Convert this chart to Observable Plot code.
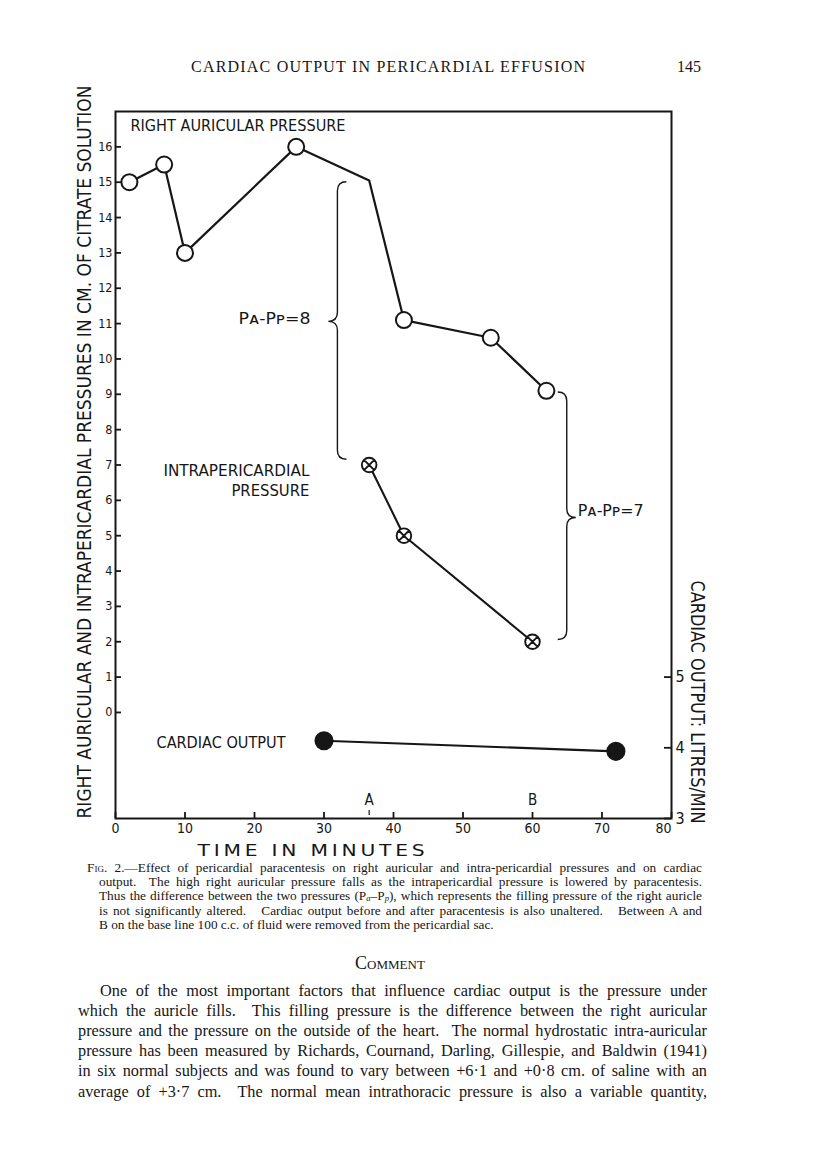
<!DOCTYPE html>
<html>
<head>
<meta charset="utf-8">
<script src="https://cdn.jsdelivr.net/npm/d3@7"></script>
<script src="https://cdn.jsdelivr.net/npm/@observablehq/plot@0.6"></script>
<style>
  html, body { margin: 0; padding: 0; background: #fff; }
  #page { position: relative; width: 816px; height: 1159px; overflow: hidden; color: #161616;
          font-family: "Liberation Serif", "DejaVu Serif", serif; }
  #chart { position: absolute; left: 0; top: 0; }
  .abs { position: absolute; white-space: pre; }
  .hdr { font-size: 16px; line-height: 16px; }
  .cap { font-size: 13.3px; line-height: 14px; }
  .txt { font-size: 16.3px; line-height: 20px; }
  .cmt { font-size: 18px; line-height: 20px; }
  .sc { font-variant: small-caps; }
  .sub { font-style: italic; font-size: 0.65em; vertical-align: -0.15em; line-height: 0; }
</style>
</head>
<body>
<div id="page">
  <div id="chart"></div>
  <div id="textLayer"></div>
</div>
<script>
// ---------------- data ----------------
const raTime     = [2, 7, 10, 26, 36.5, 41.5, 54, 62];
const raPressure = [15, 15.5, 13, 16, 15.05, 11.1, 10.6, 9.1];
const raMarked   = [true, true, true, true, false, true, true, true];

const ipTime     = [36.5, 41.5, 60];
const ipPressure = [7, 5, 2];

const coTime     = [30, 72];
const coOutput   = [4.1, 3.95];

const xTicks  = [0, 10, 20, 30, 40, 50, 60, 70, 80];
const yTicks  = [0, 1, 2, 3, 4, 5, 6, 7, 8, 9, 10, 11, 12, 13, 14, 15, 16];
const coTicks = [3, 4, 5];

const markerTimes  = [36.5, 60];
const markerLabels = ["A", "B"];

const braceX      = [32, 65];
const braceTop    = [15.0, 9.05];
const braceBottom = [7.15, 2.05];
const braceTip    = [11.05, 5.5];
const braceDir    = [-1, 1];
const braceLabels = ["P\u1D00-P\u1D18=8", "P\u1D00-P\u1D18=7"];

const leftTitle  = "RIGHT AURICULAR AND INTRAPERICARDIAL PRESSURES IN CM. OF CITRATE SOLUTION";
const rightTitle = "CARDIAC OUTPUT: LITRES/MIN";
const xTitle     = "TIME IN MINUTES";
const raLabel    = "RIGHT AURICULAR PRESSURE";
const ipLabel    = ["INTRAPERICARDIAL", "PRESSURE"];
const coLabel    = "CARDIAC OUTPUT";

// cardiac output (3..13 L/min) shares the frame with pressure (-3..17 cm)
const coToY = c => 2 * c - 9;
const yToCo = v => (v + 9) / 2;

// ---------------- tables ----------------
const raData = raTime.map((t, i) => ({t, p: raPressure[i], m: raMarked[i]}));
const ipData = ipTime.map((t, i) => ({t, p: ipPressure[i]}));
const coData = coTime.map((t, i) => ({t, c: coOutput[i]}));

// ---------------- layout ----------------
const ink = "#161616";
const W = 816, H = 870, mL = 115, mR = 145, mT = 111, mB = 52;
const frameW = W - mL - mR, frameH = H - mT - mB;
const sans = "'DejaVu Sans Condensed', 'Liberation Sans Narrow', 'DejaVu Sans', sans-serif";

const crossCircle = {
  draw(ctx, size) {
    const r = Math.sqrt(size / Math.PI), k = r / Math.SQRT2;
    ctx.moveTo(r, 0); ctx.arc(0, 0, r, 0, 2 * Math.PI);
    ctx.moveTo(-k, -k); ctx.lineTo(k, k);
    ctx.moveTo(-k, k); ctx.lineTo(k, -k);
  }
};

function braces(index, scales) {
  const g = d3.create("svg:g").attr("fill", "none").attr("stroke", ink).attr("stroke-width", 1.4);
  const c = 9;
  braceX.forEach((bx, i) => {
    const X = scales.x(bx), Y1 = scales.y(braceTop[i]), Y2 = scales.y(braceBottom[i]), M = scales.y(braceTip[i]);
    const d = braceDir[i];
    g.append("path").attr("d",
      `M${X - d * c},${Y1} Q${X},${Y1} ${X},${Y1 + c} L${X},${M - c} Q${X},${M} ${X + d * c},${M} ` +
      `Q${X},${M} ${X},${M + c} L${X},${Y2 - c} Q${X},${Y2} ${X - d * c},${Y2}`);
  });
  return g.node();
}

const chart = Plot.plot({
  width: W, height: H,
  marginLeft: mL, marginRight: mR, marginTop: mT, marginBottom: mB,
  x: {domain: [0, 80]},
  y: {domain: [-3, 17]},
  style: {fontFamily: sans, background: "none", color: ink, overflow: "visible"},
  marks: [
    Plot.frame({stroke: ink, strokeWidth: 2}),
    Plot.tickX(xTicks, {x: d => d, stroke: ink, strokeWidth: 1.8, insetTop: frameH - 6}),
    Plot.tickY(yTicks, {y: d => d, stroke: ink, strokeWidth: 1.8, insetRight: frameW - 6}),
    Plot.tickY(coTicks.map(coToY), {y: d => d, stroke: ink, strokeWidth: 1.8, insetLeft: frameW - 7}),
    Plot.axisX(xTicks.slice(0, -1), {tickSize: 0, tickPadding: 5, fontSize: 14, label: null}),
    Plot.axisX(xTicks.slice(-1), {tickSize: 0, tickPadding: 5, fontSize: 14, label: null, dx: -8}),
    Plot.axisY(yTicks, {anchor: "left", tickSize: 0, tickPadding: 3, fontSize: 12.5, label: null}),
    Plot.axisY(coTicks.map(coToY), {anchor: "right", tickSize: 0, tickPadding: 4, fontSize: 16, label: null,
                                    tickFormat: v => String(yToCo(v))}),

    // axis titles
    Plot.text([leftTitle], {frameAnchor: "left", textAnchor: "middle", lineAnchor: "middle", rotate: -90,
                            dx: -31, dy: -13, fontSize: 20}),
    Plot.text([rightTitle], {frameAnchor: "right", textAnchor: "middle", lineAnchor: "middle", rotate: 90,
                             dx: 26, dy: 237, fontSize: 20}),
    Plot.text([xTitle], {frameAnchor: "bottom", textAnchor: "middle", lineAnchor: "middle",
                         dx: -80.5, dy: 32, fontSize: 16, fontFamily: "'DejaVu Sans', sans-serif"}),

    // A / B markers on the base line
    Plot.text(markerLabels, {x: markerTimes, frameAnchor: "bottom", lineAnchor: "middle", dy: -18, fontSize: 15}),
    Plot.tickX([markerTimes[0]], {x: d => d, stroke: ink, strokeWidth: 1.2, insetTop: frameH - 8, insetBottom: 3}),

    // series labels
    Plot.text([raLabel], {x: 2.16, y: 16.58, textAnchor: "start", fontSize: 16}),
    Plot.text([ipLabel[0]], {x: 27.9, y: 6.82, textAnchor: "end", fontSize: 16}),
    Plot.text([ipLabel[1]], {x: 27.9, y: 6.28, textAnchor: "end", fontSize: 16}),
    Plot.text([coLabel], {x: 5.9, y: coToY(4.07), textAnchor: "start", fontSize: 16}),
    Plot.text([braceLabels[0]], {x: 28.06, y: 11.12, textAnchor: "end", fontSize: 15}),
    Plot.text([braceLabels[1]], {x: 66.5, y: 5.69, textAnchor: "start", fontSize: 15}),

    braces,

    // series
    Plot.line(raData, {x: "t", y: "p", stroke: ink, strokeWidth: 2.2}),
    Plot.line(ipData, {x: "t", y: "p", stroke: ink, strokeWidth: 2.1}),
    Plot.line(coData, {x: "t", y: d => coToY(d.c), stroke: ink, strokeWidth: 2.2}),
    Plot.dot(raData.filter(d => d.m), {x: "t", y: "p", r: 8, fill: "white", stroke: ink, strokeWidth: 2}),
    Plot.dot(ipData, {x: "t", y: "p", r: 7.3, symbol: crossCircle, fill: "white", stroke: ink, strokeWidth: 1.9}),
    Plot.dot(coData, {x: "t", y: d => coToY(d.c), r: 8.8, fill: ink, stroke: ink})
  ]
});
document.getElementById("chart").appendChild(chart);

// fit hand-lettered labels to their drawn widths
const fit = new Map([
  [leftTitle, 733], [rightTitle, 243], [xTitle, 231], [raLabel, 215],
  [ipLabel[0], 146], [ipLabel[1], 78], [coLabel, 129],
  [braceLabels[0], 72], [braceLabels[1], 66]
]);
chart.querySelectorAll("text").forEach(t => {
  const w = fit.get(t.textContent);
  if (w) {
    if (t.textContent === xTitle) t.setAttribute("letter-spacing", "3");
    t.setAttribute("textLength", w);
    t.setAttribute("lengthAdjust", "spacingAndGlyphs");
  }
});

// ---------------- page text ----------------
const layer = document.getElementById("textLayer");
function addLine(html, cls, left, top, width) {
  const el = document.createElement("div");
  el.className = "abs " + cls;
  el.style.left = left + "px";
  el.style.top = top + "px";
  el.innerHTML = html;
  layer.appendChild(el);
  if (width) {
    const natural = el.getBoundingClientRect().width;
    const spaces = (el.textContent.match(/ /g) || []).length;
    if (spaces) el.style.wordSpacing = ((width - natural) / spaces) + "px";
  }
  return el;
}

const runningHead = "CARDIAC OUTPUT IN PERICARDIAL EFFUSION";
const pageNumber = "145";
const hd = addLine(runningHead, "hdr", 191, 59);
const natural = hd.getBoundingClientRect().width;
hd.style.letterSpacing = ((394 - natural) / (runningHead.length - 1)) + "px";
addLine(pageNumber, "hdr", 677, 59);

const captionLines = [
  '<span class="sc">Fig.</span> 2.\u2014Effect of pericardial paracentesis on right auricular and intra-pericardial pressures and on cardiac',
  'output.  The high right auricular pressure falls as the intrapericardial pressure is lowered by paracentesis.',
  'Thus the difference between the two pressures (P<span class="sub">a</span>\u2013P<span class="sub">p</span>), which represents the filling pressure of the right auricle',
  'is not significantly altered.   Cardiac output before and after paracentesis is also unaltered.   Between A and',
  'B on the base line 100 c.c. of fluid were removed from the pericardial sac.'
];
captionLines.forEach((l, i) => {
  const left = i === 0 ? 87 : 99;
  addLine(l, "cap", left, 861 + i * 14.2, i < 4 ? 702 - left : 0);
});

const cm = addLine('<span class="sc">Comment</span>', "cmt", 0, 953);
cm.style.left = (390 - cm.getBoundingClientRect().width / 2) + "px";

const bodyLines = [
  'One of the most important factors that influence cardiac output is the pressure under',
  'which the auricle fills.  This filling pressure is the difference between the right auricular',
  'pressure and the pressure on the outside of the heart.  The normal hydrostatic intra-auricular',
  'pressure has been measured by Richards, Cournand, Darling, Gillespie, and Baldwin (1941)',
  'in six normal subjects and was found to vary between +6\u00B71 and +0\u00B78 cm. of saline with an',
  'average of +3\u00B77 cm.  The normal mean intrathoracic pressure is also a variable quantity,'
];
bodyLines.forEach((l, i) => {
  const left = i === 0 ? 100 : 78;
  addLine(l, "txt", left, 981 + i * 20.1, 707 - left);
});
</script>
</body>
</html>
